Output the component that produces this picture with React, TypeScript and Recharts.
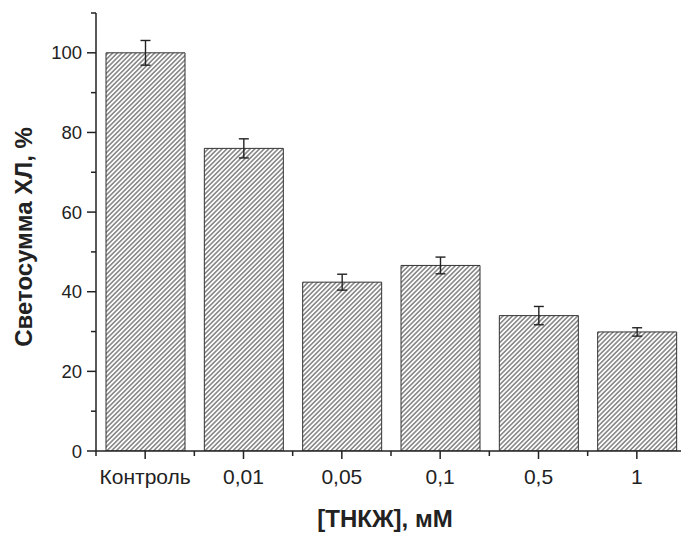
import { BarChart, Bar, XAxis, YAxis, ErrorBar, Label } from 'recharts';

const categories = ['Контроль', '0,01', '0,05', '0,1', '0,5', '1'];
const values = [100, 76, 42.4, 46.6, 34, 29.9];
const errors = [3.1, 2.4, 2.0, 2.1, 2.3, 1.05];
const yTicks = [0, 10, 20, 30, 40, 50, 60, 70, 80, 90, 100, 110];

const data = categories.map((name, i) => ({ name, value: values[i], err: errors[i] }));

const W = 700;
const H = 533;
const MARGIN = { top: 13, right: 14, left: 0, bottom: 0 };
const Y_AXIS_W = 96;
const X_AXIS_H = 82;
const BAND = (W - MARGIN.left - MARGIN.right - Y_AXIS_W) / categories.length;
const INK = '#222';
const FONT = '"Liberation Sans", Arial, Helvetica, sans-serif';

const YTick = ({ x, y, payload }: any) => {
  const major = payload.value % 20 === 0;
  return (
    <g>
      <line x1={x - (major ? 9 : 5)} x2={x} y1={y} y2={y} stroke={INK} strokeWidth={1.5} />
      {major && (
        <text x={x - 14} y={y} dy="0.36em" textAnchor="end" fontSize={18.5} fill={INK} fontFamily={FONT}>
          {payload.value}
        </text>
      )}
    </g>
  );
};

const XTick = ({ x, y, payload, index }: any) => (
  <g>
    <line x1={x} x2={x} y1={y} y2={y + 8} stroke={INK} strokeWidth={1.5} />
    <line x1={x - BAND / 2} x2={x - BAND / 2} y1={y} y2={y + 5} stroke={INK} strokeWidth={1.5} />
    {index === categories.length - 1 && (
      <line x1={x + BAND / 2} x2={x + BAND / 2} y1={y} y2={y + 5} stroke={INK} strokeWidth={1.5} />
    )}
    <text x={x} y={y + 33} textAnchor="middle" fontSize={21} fill={INK} fontFamily={FONT}>
      {payload.value}
    </text>
  </g>
);

const YTitle = () => (
  <text
    transform="translate(23,237) rotate(-90)"
    textAnchor="middle"
    dy="0.36em"
    fontSize={24}
    fontWeight="bold"
    fill={INK}
    fontFamily={FONT}
  >
    Светосумма ХЛ, %
  </text>
);

const XTitle = () => (
  <text x={385} y={527} textAnchor="middle" fontSize={24} fontWeight="bold" fill={INK} fontFamily={FONT}>
    [ТНКЖ], мМ
  </text>
);

export default function App() {
  return (
    <div style={{ position: 'fixed', left: 0, top: 0, width: 681, height: 533, overflow: 'hidden', background: '#fff' }}>
      <BarChart width={W} height={H} data={data} margin={MARGIN}>
        <defs>
          <pattern id="hatch" patternUnits="userSpaceOnUse" width={3.3} height={3.3} patternTransform="rotate(45)">
            <rect width={3.3} height={3.3} fill="#fff" />
            <line x1={1.65} y1={0} x2={1.65} y2={3.3} stroke="#2a2a2a" strokeWidth={0.9} />
          </pattern>
        </defs>
        <XAxis
          dataKey="name"
          height={X_AXIS_H}
          tick={<XTick />}
          tickLine={false}
          tickSize={0}
          tickMargin={0}
          interval={0}
          axisLine={{ stroke: INK, strokeWidth: 1.5 }}
        >
          <Label content={<XTitle />} />
        </XAxis>
        <YAxis
          width={Y_AXIS_W}
          domain={[0, 110]}
          ticks={yTicks}
          interval={0}
          tick={<YTick />}
          tickLine={false}
          tickSize={0}
          tickMargin={0}
          allowDataOverflow
          axisLine={{ stroke: INK, strokeWidth: 1.5 }}
        >
          <Label content={<YTitle />} />
        </YAxis>
        <Bar dataKey="value" barSize={79} fill="url(#hatch)" stroke="#333" strokeWidth={1} isAnimationActive={false}>
          <ErrorBar dataKey="err" width={5} stroke={INK} strokeWidth={1.4} direction="y" />
        </Bar>
      </BarChart>
    </div>
  );
}
